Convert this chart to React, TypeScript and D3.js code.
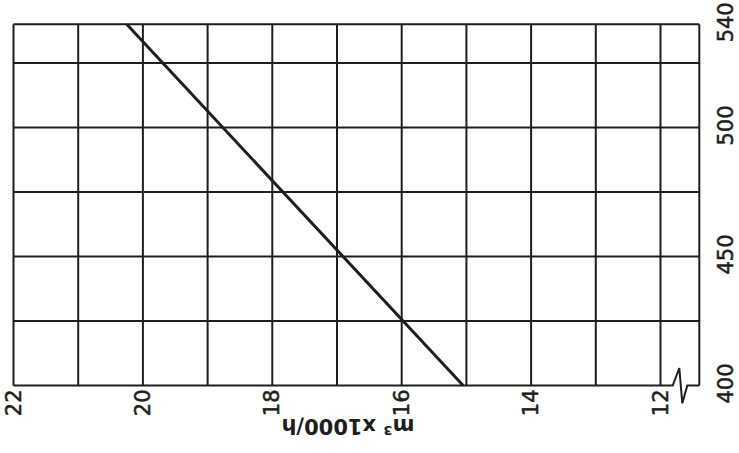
import React from "react";
import * as d3 from "d3";

const flowTickLabels = [22, 20, 18, 16, 14, 12];
const pressureTickLabels = [400, 450, 500, 540];
const flowGrid = [22, 21, 20, 19, 18, 17, 16, 15, 14, 13, 12];
const pressureGrid = [400, 425, 450, 475, 500, 525, 540];
const curvePressure = [400, 540];
const curveFlow = [15.05, 20.25];
const axisTitle = "m³ x1000/h";

const W = 739;
const H = 453;

export default function App() {
  const x = d3.scaleLinear().domain([22, 12]).range([13.5, 660.5]);
  const y = d3.scaleLinear().domain([400, 540]).range([385.5, 24.3]);
  const xRight = 699.3;
  const xEnd = x.invert(xRight);
  const ink = "#1e1e1e";
  const font = "'DejaVu Sans', sans-serif";

  const pts: [number, number][] = curvePressure.map((p, i) => [x(curveFlow[i]), y(p)]);
  const linePath = d3.line()(pts) || "";

  const yb = y(400);
  const x12 = x(12);
  const breakPath =
    d3.line()([
      [x(22), yb],
      [x12 + 12.2, yb],
      [x12 + 18.8, yb - 17.5],
      [x12 + 21.8, yb + 17.8],
      [x12 + 26.8, yb],
      [xRight, yb],
    ]) || "";

  return (
    <svg
      width={W}
      height={H}
      style={{ position: "absolute", left: 0, top: 0, background: "#fff" }}
    >
      <rect x={0} y={0} width={W} height={H} fill="#fff" />
      {flowGrid.map((v) => (
        <line
          key={"v" + v}
          x1={x(v)}
          x2={x(v)}
          y1={y(540)}
          y2={y(400)}
          stroke={ink}
          strokeWidth={2}
        />
      ))}
      <line x1={xRight} x2={xRight} y1={y(540)} y2={y(400)} stroke={ink} strokeWidth={2} />
      {pressureGrid
        .filter((p) => p !== 400)
        .map((p) => (
          <line
            key={"h" + p}
            x1={x(22)}
            x2={x(xEnd)}
            y1={y(p)}
            y2={y(p)}
            stroke={ink}
            strokeWidth={2}
          />
        ))}
      <path d={breakPath} fill="none" stroke={ink} strokeWidth={2} strokeLinejoin="miter" />
      <path d={linePath} fill="none" stroke={ink} strokeWidth={3} />
      {flowTickLabels.map((v) => (
        <text
          key={"fl" + v}
          transform={`translate(${x(v)},${y(400) + 4}) rotate(-90)`}
          textAnchor="end"
          dominantBaseline="central"
          fontFamily={font}
          fontSize={21}
          fill={ink}
          stroke={ink}
          strokeWidth={0.5}
        >
          {v}
        </text>
      ))}
      {pressureTickLabels.map((p) => (
        <text
          key={"pl" + p}
          transform={`translate(726,${y(p) - 2}) rotate(-90)`}
          textAnchor="middle"
          dominantBaseline="central"
          fontFamily={font}
          fontSize={21}
          fill={ink}
          stroke={ink}
          strokeWidth={0.5}
        >
          {p}
        </text>
      ))}
      <text
        transform={`translate(348,426) rotate(180)`}
        textAnchor="middle"
        dominantBaseline="central"
        fontFamily={font}
        fontSize={21}
        fontWeight="bold"
        fill={ink}
      >
        {axisTitle}
      </text>
    </svg>
  );
}
